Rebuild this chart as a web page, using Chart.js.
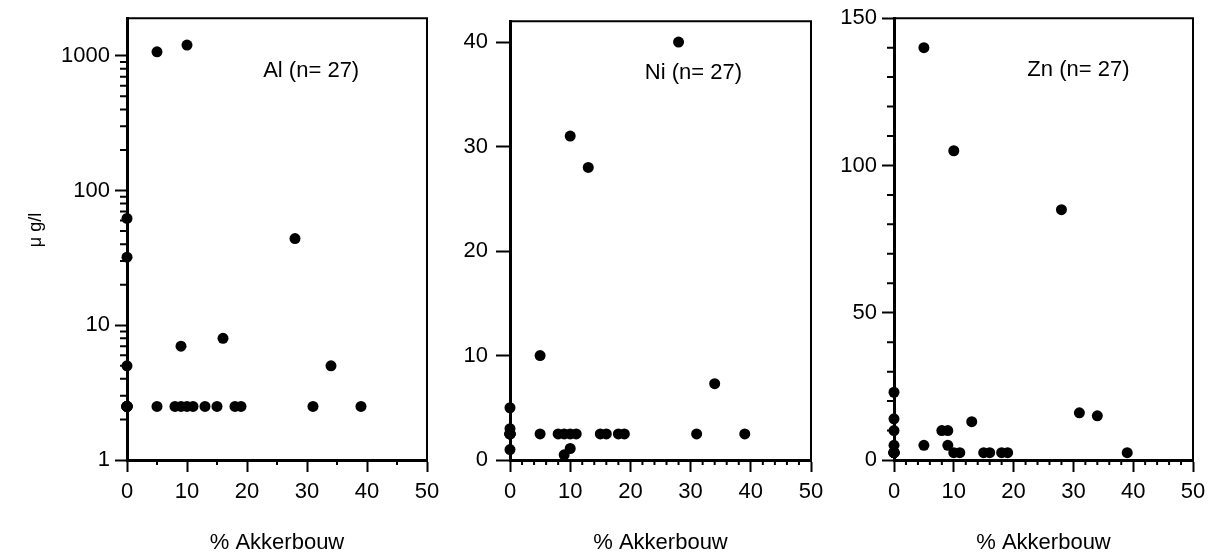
<!DOCTYPE html>
<html>
<head>
<meta charset="utf-8">
<script src="https://cdn.jsdelivr.net/npm/chart.js@4.4.1/dist/chart.umd.min.js"></script>
<style>
  html, body { margin: 0; padding: 0; background: #fff; }
  #wrap { position: relative; width: 1218px; height: 556px; overflow: hidden; }
  canvas { position: absolute; top: 0; }
</style>
</head>
<body>
<div id="wrap">
  <canvas id="cAl" width="450" height="556" style="left:0px"></canvas>
  <canvas id="cNi" width="385" height="556" style="left:450px"></canvas>
  <canvas id="cZn" width="383" height="556" style="left:835px"></canvas>
</div>
<script>
// Share of arable land (% Akkerbouw) per sampling site and the measured concentration (µg/l)
const alPct = [0, 0, 0, 0, 0, 0, 0, 0, 0, 0, 5, 5, 8, 9, 9, 10, 10, 11, 13, 15, 16, 18, 19, 28, 31, 34, 39];
const alVal = [62, 32, 5, 2.5, 2.5, 2.5, 2.5, 2.5, 2.5, 2.5, 1070, 2.5, 2.5, 7, 2.5, 1200, 2.5, 2.5, 2.5, 2.5, 8, 2.5, 2.5, 44, 2.5, 5, 2.5];

const niPct = [0, 0, 0, 0, 0, 0, 0, 0, 0, 5, 5, 8, 9, 9, 10, 10, 10, 11, 13, 15, 16, 18, 19, 28, 31, 34, 39];
const niVal = [5, 3, 2.5, 1, 2.5, 2.5, 2.5, 2.5, 2.5, 10, 2.5, 2.5, 2.5, 0.5, 31, 2.5, 1.1, 2.5, 28, 2.5, 2.5, 2.5, 2.5, 40, 2.5, 7.3, 2.5];

const znPct = [0, 0, 0, 0, 0, 0, 0, 0, 0, 0, 5, 5, 8, 9, 9, 10, 10, 11, 13, 15, 16, 18, 19, 28, 31, 34, 39];
const znVal = [23, 14, 10, 5, 2.5, 2.5, 2.5, 2.5, 2.5, 2.5, 140, 5, 10, 10, 5, 105, 2.5, 2.5, 13, 2.5, 2.5, 2.5, 2.5, 85, 16, 15, 2.5];

// Tick labels
const xTicks = [0, 10, 20, 30, 40, 50];
const alYTicks = [1, 10, 100, 1000];
const niYTicks = [0, 10, 20, 30, 40];
const znYTicks = [0, 50, 100, 150];

// Panel captions and axis titles
const panelLabels = ['Al (n= 27)', 'Ni (n= 27)', 'Zn (n= 27)'];
const xTitle = '% Akkerbouw';
const yTitle = '\u03bc g/l';

const FONT = "'Liberation Sans', Arial, Helvetica, sans-serif";
Chart.defaults.font.family = FONT;
Chart.defaults.color = '#000';

function range(from, to, step, skipEvery) {
  const out = [];
  for (let v = from; v <= to + 1e-9; v += step) {
    if (skipEvery && Math.abs(v / skipEvery - Math.round(v / skipEvery)) < 1e-9) continue;
    out.push(v);
  }
  return out;
}

function logMinors(maxVal) {
  const out = [];
  for (let d = 1; d <= 1000; d *= 10) {
    for (let m = 2; m <= 9; m++) if (d * m <= maxVal) out.push(d * m);
  }
  return out;
}

// Frame, minor ticks, caption and optional vertical title
const decorPlugin = {
  id: 'decor',
  afterDatasetsDraw(chart, args, o) {
    const { ctx, chartArea: a, scales } = chart;
    const xs = scales.x, ys = scales.y;
    ctx.save();
    ctx.strokeStyle = '#000';
    // top and right edge of the box
    ctx.lineWidth = 2;
    ctx.beginPath();
    ctx.moveTo(a.left, a.top);
    ctx.lineTo(a.right, a.top);
    ctx.lineTo(a.right, a.bottom);
    ctx.stroke();
    // minor ticks on the x axis
    ctx.lineWidth = 2;
    ctx.beginPath();
    o.xMinor.forEach(v => {
      const px = xs.getPixelForValue(v);
      ctx.moveTo(px, a.bottom);
      ctx.lineTo(px, a.bottom + o.xMinorLen);
    });
    // minor ticks on the y axis
    o.yMinor.forEach(v => {
      const py = ys.getPixelForValue(v);
      ctx.moveTo(a.left, py);
      ctx.lineTo(a.left - o.yMinorLen, py);
    });
    ctx.stroke();
    // caption
    ctx.fillStyle = '#000';
    ctx.font = '22px ' + FONT;
    ctx.textAlign = 'left';
    ctx.textBaseline = 'middle';
    ctx.fillText(o.caption, xs.getPixelForValue(o.capAt[0]), ys.getPixelForValue(o.capAt[1]));
    // vertical unit title
    if (o.yTitle) {
      ctx.translate(o.yTitlePos[0], o.yTitlePos[1]);
      ctx.rotate(-Math.PI / 2);
      ctx.textAlign = 'center';
      ctx.font = '18px ' + FONT;
      ctx.fillText(o.yTitle, 0, 0);
    }
    ctx.restore();
  }
};

function makePanel(id, pct, val, cfg) {
  const points = pct.map((p, i) => ({ x: p, y: val[i] }));
  return new Chart(document.getElementById(id), {
    type: 'scatter',
    data: {
      datasets: [{
        data: points,
        backgroundColor: '#000',
        borderColor: '#000',
        borderWidth: 0,
        pointRadius: 5.5,
        pointHoverRadius: 5.5,
        clip: false
      }]
    },
    options: {
      responsive: false,
      animation: false,
      events: [],
      layout: { padding: { top: cfg.padTop, right: cfg.padRight, left: 0, bottom: 0 } },
      plugins: {
        legend: { display: false },
        tooltip: { enabled: false },
        decor: cfg.decor
      },
      scales: {
        x: {
          type: 'linear',
          min: 0,
          max: 50,
          afterBuildTicks: s => { s.ticks = xTicks.map(v => ({ value: v })); },
          afterFit: s => { s.height = 96; },
          ticks: { font: { size: 22 }, padding: 7, maxRotation: 0, autoSkip: false, callback: v => String(v) },
          grid: { drawOnChartArea: false, drawTicks: true, tickLength: 12, tickWidth: 2, tickColor: '#000', color: '#000' },
          border: { display: true, color: '#000', width: 3 },
          title: { display: true, text: xTitle, font: { size: 22 }, padding: { top: 0, bottom: 0 } }
        },
        y: {
          type: cfg.yType,
          min: cfg.yMin,
          max: cfg.yMax,
          afterBuildTicks: s => { s.ticks = cfg.yTicks.map(v => ({ value: v })); },
          afterFit: s => { s.width = cfg.yWidth; },
          ticks: { font: { size: 22 }, padding: cfg.yPad, autoSkip: false, callback: v => String(v) },
          grid: { drawOnChartArea: false, drawTicks: true, tickLength: cfg.yTickLen, tickWidth: 2, tickColor: '#000', color: '#000' },
          border: { display: true, color: '#000', width: 3 }
        }
      }
    },
    plugins: [decorPlugin]
  });
}

makePanel('cAl', alPct, alVal, {
  yType: 'logarithmic', yMin: 1, yMax: 1900, yTicks: alYTicks,
  yWidth: 127, padTop: 17, padRight: 23, yTickLen: 12, yPad: 5,
  decor: {
    xMinor: range(5, 45, 10), xMinorLen: 5,
    yMinor: logMinors(1900), yMinorLen: 7,
    caption: panelLabels[0], capAt: [22.7, 775],
    yTitle: yTitle, yTitlePos: [36, 230]
  }
});

makePanel('cNi', niPct, niVal, {
  yType: 'linear', yMin: 0, yMax: 42, yTicks: niYTicks,
  yWidth: 60, padTop: 18, padRight: 24, yTickLen: 14, yPad: 8,
  decor: {
    xMinor: range(2, 48, 2, 10), xMinorLen: 5,
    yMinor: [], yMinorLen: 0,
    caption: panelLabels[1], capAt: [22.4, 37.05]
  }
});

makePanel('cZn', znPct, znVal, {
  yType: 'linear', yMin: 0, yMax: 150, yTicks: znYTicks,
  yWidth: 59, padTop: 18, padRight: 25, yTickLen: 12, yPad: 5,
  decor: {
    xMinor: range(2, 48, 2, 10), xMinorLen: 5,
    yMinor: range(10, 140, 10, 50), yMinorLen: 7,
    caption: panelLabels[2], capAt: [22.3, 132.6]
  }
});
</script>
</body>
</html>
